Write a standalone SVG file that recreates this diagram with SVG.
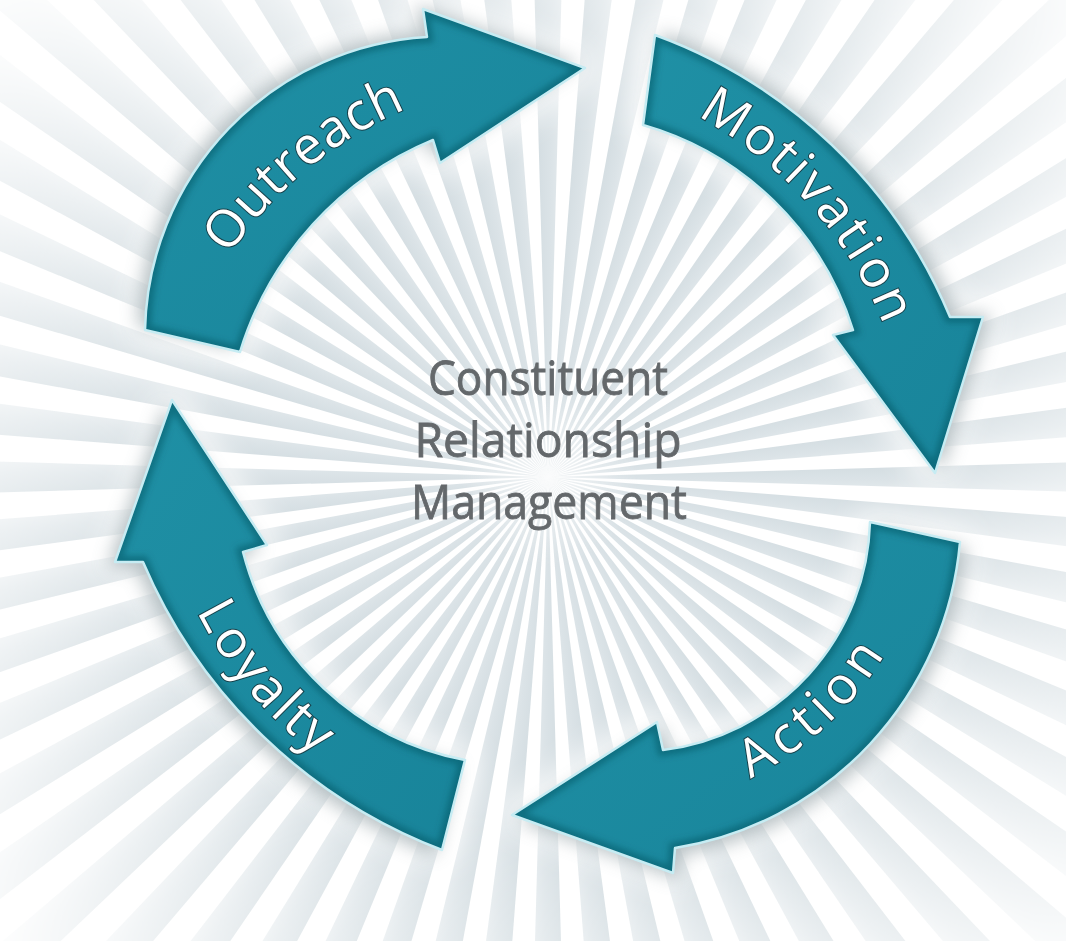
<svg xmlns="http://www.w3.org/2000/svg" xmlns:xlink="http://www.w3.org/1999/xlink" width="1066" height="941" viewBox="0 0 1066 941">
  <style>
    .body { fill: url(#teal); }
    .bevel { fill: none; stroke: #0b5360; stroke-width: 12; stroke-opacity: 0.5; filter: url(#soft); }
    .rim { fill: none; stroke: #c6ecf3; stroke-width: 2.5; stroke-linejoin: round; }
    .shade { fill: #6f8288; opacity: 0.5; filter: url(#blurShade); }
    .glow { fill: #ffffff; stroke: #ffffff; stroke-width: 24; stroke-linejoin: round; opacity: 0.85; filter: url(#blurGlow); }
    .label { font-family: "Open Sans", "Noto Sans", "DejaVu Sans", sans-serif; font-size: 52px; fill: #ffffff; stroke: #17404a; stroke-width: 2; paint-order: stroke; letter-spacing: 2px; }
    .title { font-family: "Open Sans", "Noto Sans", "DejaVu Sans", sans-serif; font-size: 48px; fill: #64686b; stroke: #64686b; stroke-width: 0.8; text-anchor: middle; }
  </style>
  <defs>
    <filter id="soft" x="-20%" y="-20%" width="140%" height="140%"><feGaussianBlur stdDeviation="3"/></filter>
    <filter id="blurShade" x="-30%" y="-30%" width="160%" height="160%"><feGaussianBlur stdDeviation="9"/></filter>
    <filter id="blurGlow" x="-30%" y="-30%" width="160%" height="160%"><feGaussianBlur stdDeviation="16"/></filter>

    <linearGradient id="teal" x1="0" y1="0" x2="1" y2="1">
      <stop offset="0" stop-color="#1f90a5"/>
      <stop offset="1" stop-color="#18849a"/>
    </linearGradient>

    <!-- one grey ray of the sunburst, pointing right from the origin -->
    <linearGradient id="rayShade" x1="0" y1="0" x2="0" y2="1">
      <stop offset="0" stop-color="#cbd6db"/>
      <stop offset="0.55" stop-color="#dbe3e7"/>
      <stop offset="1" stop-color="#eef2f4"/>
    </linearGradient>
    <path id="ray" d="M0,0 L1000,-28 L1000,28 Z" fill="url(#rayShade)"/>
    <radialGradient id="fade" cx="548" cy="477" r="760" gradientUnits="userSpaceOnUse">
      <stop offset="0" stop-color="#fff"/>
      <stop offset="0.45" stop-color="#fff"/>
      <stop offset="1" stop-color="#000"/>
    </radialGradient>
    <mask id="rayMask"><rect width="1066" height="941" fill="url(#fade)"/></mask>
    <radialGradient id="core" cx="548" cy="477" r="90" gradientUnits="userSpaceOnUse">
      <stop offset="0" stop-color="#fff" stop-opacity="0.7"/>
      <stop offset="1" stop-color="#fff" stop-opacity="0"/>
    </radialGradient>

    <!-- arrow outlines -->
    <path id="shapeOutreach" d="M145,330 A300,300 0 0 1 427,37 L423,9 L585,68 L440,163 L433,140 A337,337 0 0 0 240,352 Z"/>
    <path id="shapeMotivation" d="M655,35 A508,508 0 0 1 950,317 L983,317 L935,473 L833,335 L853,330 A309,309 0 0 0 643,125 Z"/>
    <path id="shapeAction" d="M960,542 A340,340 0 0 1 675,848 L673,873 L512,815 L657,722 L663,750 A236,236 0 0 0 870,522 Z"/>
    <path id="shapeLoyalty" d="M442,850 A531,531 0 0 1 143,562 L115,562 L172,400 L267,545 L243,552 A284,284 0 0 0 465,760 Z"/>

    <clipPath id="clipOutreach"><use xlink:href="#shapeOutreach"/></clipPath>
    <clipPath id="clipMotivation"><use xlink:href="#shapeMotivation"/></clipPath>
    <clipPath id="clipAction"><use xlink:href="#shapeAction"/></clipPath>
    <clipPath id="clipLoyalty"><use xlink:href="#shapeLoyalty"/></clipPath>

    <!-- label baselines -->
    <path id="textOutreach" d="M158.4,372.8 A422,422 0 0 1 536.6,61"/>
    <path id="textMotivation" d="M596.7,61 A430,430 0 0 1 927.6,435.1"/>
    <path id="textAction" d="M644.3,794.9 A318,318 0 0 0 911.1,546.1"/>
    <path id="textLoyalty" d="M171.5,464 A390,390 0 0 0 459.1,806.7"/>
  </defs>

  <!-- background sunburst -->
  <rect width="1066" height="941" fill="#ffffff"/>
  <g id="sunburst" mask="url(#rayMask)">
    <g transform="translate(548,477)">
      <use xlink:href="#ray" transform="rotate(0)"/><use xlink:href="#ray" transform="rotate(6)"/>
      <use xlink:href="#ray" transform="rotate(12)"/><use xlink:href="#ray" transform="rotate(18)"/>
      <use xlink:href="#ray" transform="rotate(24)"/><use xlink:href="#ray" transform="rotate(30)"/>
      <use xlink:href="#ray" transform="rotate(36)"/><use xlink:href="#ray" transform="rotate(42)"/>
      <use xlink:href="#ray" transform="rotate(48)"/><use xlink:href="#ray" transform="rotate(54)"/>
      <use xlink:href="#ray" transform="rotate(60)"/><use xlink:href="#ray" transform="rotate(66)"/>
      <use xlink:href="#ray" transform="rotate(72)"/><use xlink:href="#ray" transform="rotate(78)"/>
      <use xlink:href="#ray" transform="rotate(84)"/><use xlink:href="#ray" transform="rotate(90)"/>
      <use xlink:href="#ray" transform="rotate(96)"/><use xlink:href="#ray" transform="rotate(102)"/>
      <use xlink:href="#ray" transform="rotate(108)"/><use xlink:href="#ray" transform="rotate(114)"/>
      <use xlink:href="#ray" transform="rotate(120)"/><use xlink:href="#ray" transform="rotate(126)"/>
      <use xlink:href="#ray" transform="rotate(132)"/><use xlink:href="#ray" transform="rotate(138)"/>
      <use xlink:href="#ray" transform="rotate(144)"/><use xlink:href="#ray" transform="rotate(150)"/>
      <use xlink:href="#ray" transform="rotate(156)"/><use xlink:href="#ray" transform="rotate(162)"/>
      <use xlink:href="#ray" transform="rotate(168)"/><use xlink:href="#ray" transform="rotate(174)"/>
      <use xlink:href="#ray" transform="rotate(180)"/><use xlink:href="#ray" transform="rotate(186)"/>
      <use xlink:href="#ray" transform="rotate(192)"/><use xlink:href="#ray" transform="rotate(198)"/>
      <use xlink:href="#ray" transform="rotate(204)"/><use xlink:href="#ray" transform="rotate(210)"/>
      <use xlink:href="#ray" transform="rotate(216)"/><use xlink:href="#ray" transform="rotate(222)"/>
      <use xlink:href="#ray" transform="rotate(228)"/><use xlink:href="#ray" transform="rotate(234)"/>
      <use xlink:href="#ray" transform="rotate(240)"/><use xlink:href="#ray" transform="rotate(246)"/>
      <use xlink:href="#ray" transform="rotate(252)"/><use xlink:href="#ray" transform="rotate(258)"/>
      <use xlink:href="#ray" transform="rotate(264)"/><use xlink:href="#ray" transform="rotate(270)"/>
      <use xlink:href="#ray" transform="rotate(276)"/><use xlink:href="#ray" transform="rotate(282)"/>
      <use xlink:href="#ray" transform="rotate(288)"/><use xlink:href="#ray" transform="rotate(294)"/>
      <use xlink:href="#ray" transform="rotate(300)"/><use xlink:href="#ray" transform="rotate(306)"/>
      <use xlink:href="#ray" transform="rotate(312)"/><use xlink:href="#ray" transform="rotate(318)"/>
      <use xlink:href="#ray" transform="rotate(324)"/><use xlink:href="#ray" transform="rotate(330)"/>
      <use xlink:href="#ray" transform="rotate(336)"/><use xlink:href="#ray" transform="rotate(342)"/>
      <use xlink:href="#ray" transform="rotate(348)"/><use xlink:href="#ray" transform="rotate(354)"/>
    </g>
  </g>
  <rect width="1066" height="941" fill="url(#core)"/>

  <!-- centre title -->
  <g id="title">
    <text class="title" x="548" y="395" textLength="240" lengthAdjust="spacingAndGlyphs">Constituent</text>
    <text class="title" x="548" y="457" textLength="267" lengthAdjust="spacingAndGlyphs">Relationship</text>
    <text class="title" x="549" y="519" textLength="276" lengthAdjust="spacingAndGlyphs">Management</text>
  </g>

  <!-- the four cycle steps -->
  <g id="cycle">
    <g id="outreach">
      <use xlink:href="#shapeOutreach" class="glow"/>
      <use xlink:href="#shapeOutreach" class="shade" transform="translate(-7,-4)"/>
      <use xlink:href="#shapeOutreach" class="body"/>
      <g clip-path="url(#clipOutreach)"><use xlink:href="#shapeOutreach" class="bevel"/></g>
      <use xlink:href="#shapeOutreach" class="rim"/>
      <text class="label" dy="16"><textPath xlink:href="#textOutreach" startOffset="50%" text-anchor="middle">Outreach</textPath></text>
    </g>
    <g id="motivation">
      <use xlink:href="#shapeMotivation" class="glow"/>
      <use xlink:href="#shapeMotivation" class="shade" transform="translate(7,-3)"/>
      <use xlink:href="#shapeMotivation" class="body"/>
      <g clip-path="url(#clipMotivation)"><use xlink:href="#shapeMotivation" class="bevel"/></g>
      <use xlink:href="#shapeMotivation" class="rim"/>
      <text class="label" dy="16" style="letter-spacing:4px"><textPath xlink:href="#textMotivation" startOffset="50%" text-anchor="middle">Motivation</textPath></text>
    </g>
    <g id="action">
      <use xlink:href="#shapeAction" class="glow"/>
      <use xlink:href="#shapeAction" class="shade" transform="translate(6,6)"/>
      <use xlink:href="#shapeAction" class="body"/>
      <g clip-path="url(#clipAction)"><use xlink:href="#shapeAction" class="bevel"/></g>
      <use xlink:href="#shapeAction" class="rim"/>
      <text class="label" dy="16" style="letter-spacing:5px"><textPath xlink:href="#textAction" startOffset="50%" text-anchor="middle">Action</textPath></text>
    </g>
    <g id="loyalty">
      <use xlink:href="#shapeLoyalty" class="glow"/>
      <use xlink:href="#shapeLoyalty" class="shade" transform="translate(-7,5)"/>
      <use xlink:href="#shapeLoyalty" class="body"/>
      <g clip-path="url(#clipLoyalty)"><use xlink:href="#shapeLoyalty" class="bevel"/></g>
      <use xlink:href="#shapeLoyalty" class="rim"/>
      <text class="label" dy="16"><textPath xlink:href="#textLoyalty" startOffset="50%" text-anchor="middle">Loyalty</textPath></text>
    </g>
  </g>
</svg>
